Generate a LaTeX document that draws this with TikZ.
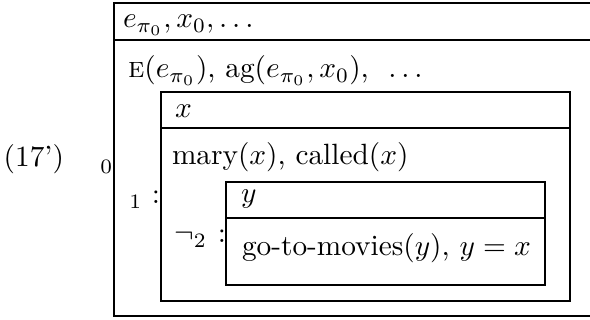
\documentclass[tikz,border=0pt]{standalone}
\begin{document}
\begin{tikzpicture}[x=0.341pt,y=-0.341pt,
  txt/.style={inner sep=0pt,outer sep=0pt,anchor=base west},
  rgt/.style={inner sep=0pt,outer sep=0pt,anchor=base east},
  ctr/.style={inner sep=0pt,outer sep=0pt,anchor=base},
  drsline/.style={line width=0.4pt}]
\useasboundingbox (0,0) rectangle (590,320);
% outer box (open on the right)
\draw[drsline] (590,3) -- (114,3) -- (114,316) -- (590,316);
\draw[drsline] (114,40) -- (590,40);
% box 1
\draw[drsline] (161,92) rectangle (570,301);
\draw[drsline] (161,128) -- (570,128);
% box 2
\draw[drsline] (226,182) rectangle (545,285);
\draw[drsline] (226,218) -- (545,218);
% texts
\node[rgt] (num) at (64,167) {(17')};
\node[ctr] (s0) at (107,169) {$_0$};
\node[txt] (u0) at (123,28) {$e_{\pi_0}, x_0, \ldots$};
\node[txt] (c0) at (128,78) {\textsc{e}$(e_{\pi_0})$, ag$(e_{\pi_0}, x_0)$, \ $\ldots$};
\node[ctr] (s1) at (136,204) {$_1$};
\node[ctr] (k1) at (156,204) {:};
\node[txt] (u1) at (175,118) {$x$};
\node[txt] (c1) at (172,165) {mary$(x)$, called$(x)$};
\node[rgt] (s2) at (207,243) {$\neg_2$};
\node[ctr] (k2) at (222,243) {:};
\node[txt] (u2) at (241,203) {$y$};
\node[txt] (c2) at (242,256) {go-to-movies$(y)$, $y=x$};
\end{tikzpicture}
\end{document}
